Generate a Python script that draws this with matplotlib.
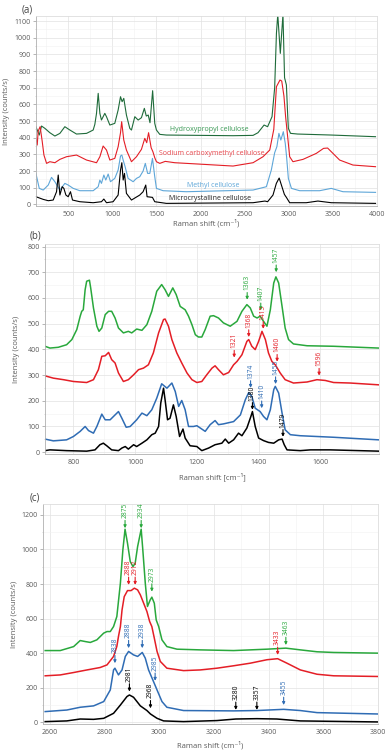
import numpy as np
import matplotlib
matplotlib.use("Agg")
from matplotlib import pyplot as plt
from matplotlib.ticker import MultipleLocator

plt.rcParams["font.family"] = ["Open Sans", "DejaVu Sans"]

# ---------- panel (a): full range ----------
a_mcc_x = [134, 217, 274, 330, 368, 387, 406, 432, 451, 474, 500, 526, 549, 632, 783, 877,
           904, 934, 1009, 1066, 1093, 1108, 1123, 1138, 1160, 1217, 1311, 1349, 1379, 1394,
           1455, 1481, 1613, 2595, 2730, 2760, 2821, 2859, 2891, 2920, 2950, 2975, 3010,
           3198, 3330, 3481, 3983]
a_mcc_y = [46, 30, 22, 26, 76, 176, 56, 106, 96, 56, 46, 76, 26, 16, 10, 16,
           32, 10, 16, 56, 206, 250, 146, 186, 66, 26, 56, 76, 116, 46,
           42, 16, 6, 10, 20, 16, 56, 126, 158, 110, 60, 40, 10,
           10, 20, 10, 6]

a_mc_x = [134, 172, 217, 274, 311, 349, 406, 462, 500, 557, 632, 783, 840, 859, 877, 904, 926,
          953, 979, 1028, 1066, 1093, 1108, 1123, 1145, 1179, 1236, 1274, 1311, 1349, 1374,
          1400, 1425, 1455, 1481, 1500, 1576, 1840, 2595, 2746, 2802, 2840, 2865, 2888, 2910,
          2938, 2960, 2975, 2995, 3030, 3123, 3349, 3481, 3614, 3983]
a_mc_y = [186, 96, 86, 116, 162, 136, 86, 126, 116, 96, 82, 82, 106, 146, 126, 176, 146,
          182, 136, 156, 206, 290, 296, 266, 226, 156, 136, 156, 166, 200, 246,
          186, 186, 276, 166, 96, 82, 76, 86, 106, 206, 310, 346, 426, 386,
          436, 366, 286, 156, 96, 82, 82, 96, 76, 72]

a_cmc_x = [134, 149, 160, 182, 205, 225, 255, 292, 349, 406, 481, 594, 708, 821, 859, 896,
           934, 972, 1028, 1066, 1093, 1106, 1130, 1160, 1217, 1274, 1330, 1368, 1390, 1411,
           1440, 1460, 1481, 1500, 1538, 1600, 1708, 1840, 2368, 2595, 2708, 2784, 2830,
           2860, 2900, 2920, 2945, 2964, 2991, 3010, 3047, 3161, 3312, 3394, 3440, 3576,
           3727, 3983]
a_cmc_y = [400, 356, 440, 466, 380, 296, 246, 256, 250, 270, 286, 296, 266, 250, 286, 350,
           326, 266, 276, 346, 430, 496, 386, 326, 256, 286, 330, 396, 370, 430,
           340, 316, 280, 256, 246, 258, 250, 246, 230, 250, 286, 326, 450,
           706, 746, 740, 650, 526, 386, 286, 256, 270, 306, 336, 338, 266,
           236, 226]

a_hpc_x = [134, 172, 198, 236, 292, 349, 406, 462, 519, 594, 708, 783, 802, 821, 840, 859,
           877, 915, 934, 972, 1028, 1066, 1093, 1111, 1130, 1160, 1198, 1217, 1255, 1293,
           1330, 1363, 1385, 1407, 1427, 1457, 1481, 1500, 1538, 1613, 2368, 2595, 2651,
           2720, 2760, 2810, 2840, 2860, 2875, 2904, 2934, 2952, 2973, 2985, 2995, 3020,
           3100, 3481, 3983]
a_hpc_y = [466, 416, 470, 456, 430, 410, 426, 466, 446, 422, 426, 446, 480, 546, 666, 546,
           506, 546, 526, 476, 486, 566, 646, 616, 636, 536, 456, 446, 526, 506,
           520, 576, 530, 536, 490, 682, 486, 446, 420, 416, 412, 414, 430,
           476, 466, 526, 700, 1026, 1140, 906, 1140, 760, 716, 566, 456, 426,
           422, 416, 406]

# ---------- panel (b): fingerprint region ----------
b_hpc_x = [708, 724, 751, 778, 795, 811, 822, 827, 832, 838, 843, 852, 856, 865, 876, 883,
           892, 903, 914, 924, 935, 946, 962, 978, 989, 1005, 1022, 1038, 1054, 1070, 1086,
           1097, 1108, 1122, 1133, 1146, 1162, 1173, 1184, 1195, 1205, 1216, 1227, 1243,
           1254, 1270, 1286, 1308, 1330, 1346, 1362, 1373, 1384, 1395, 1405, 1416, 1427,
           1438, 1449, 1456, 1465, 1476, 1486, 1497, 1513, 1557, 1643, 1789]
b_hpc_y = [412, 405, 408, 418, 438, 477, 529, 548, 554, 632, 665, 669, 639, 561, 490, 470,
           483, 535, 548, 548, 522, 483, 464, 470, 464, 479, 474, 496, 548, 626, 652,
           632, 606, 639, 613, 567, 554, 529, 496, 457, 448, 448, 477, 529,
           531, 522, 503, 490, 509, 548, 574, 561, 529, 522, 529, 509, 490,
           554, 658, 682, 658, 567, 483, 438, 421, 414, 412, 405]

b_cmc_x = [708, 735, 768, 800, 843, 865, 881, 892, 903, 914, 924, 935, 946, 962, 978, 995,
           1011, 1027, 1043, 1059, 1076, 1092, 1097, 1108, 1119, 1135, 1151, 1168, 1184,
           1200, 1216, 1232, 1249, 1259, 1270, 1286, 1303, 1319, 1330, 1346, 1362, 1368,
           1378, 1389, 1400, 1411, 1422, 1432, 1443, 1454, 1470, 1486, 1513, 1557, 1589,
           1616, 1643, 1697, 1789]
b_cmc_y = [297, 288, 282, 275, 271, 282, 321, 373, 375, 388, 360, 347, 308, 275, 282, 301,
           321, 327, 340, 386, 464, 516, 518, 490, 438, 386, 347, 308, 282,
           271, 275, 301, 327, 336, 321, 301, 310, 340, 353, 379, 431, 438,
           412, 399, 431, 470, 438, 386, 353, 340, 308, 282, 269, 273, 282,
           279, 271, 269, 262]

b_mc_x = [708, 735, 778, 800, 822, 838, 849, 865, 876, 892, 903, 919, 935, 946, 957, 971,
          984, 1005, 1022, 1038, 1054, 1070, 1086, 1103, 1119, 1130, 1141, 1151, 1162, 1173,
          1189, 1200, 1211, 1227, 1243, 1259, 1270, 1286, 1319, 1341, 1357, 1368, 1378,
          1389, 1405, 1416, 1427, 1438, 1449, 1454, 1465, 1476, 1486, 1503, 1535, 1643, 1789]
b_mc_y = [51, 44, 48, 61, 81, 100, 84, 74, 100, 148, 126, 126, 145, 158, 132, 97,
          100, 126, 152, 142, 165, 210, 266, 249, 269, 236, 178, 201, 165, 100,
          100, 103, 94, 81, 107, 123, 107, 110, 119, 145, 204, 232, 217,
          171, 158, 139, 126, 165, 243, 256, 230, 152, 87, 68, 64, 58, 48]

b_mcc_x = [708, 724, 778, 843, 870, 886, 897, 908, 924, 946, 957, 968, 978, 995, 1005, 1022,
           1038, 1054, 1065, 1076, 1083, 1092, 1097, 1105, 1113, 1124, 1133, 1144, 1155,
           1162, 1178, 1200, 1216, 1238, 1259, 1281, 1292, 1303, 1319, 1335, 1346, 1362,
           1375, 1380, 1389, 1400, 1416, 1432, 1449, 1465, 1476, 1483, 1492, 1535, 1568,
           1632, 1789]
b_mcc_y = [6, 9, 6, 4, 9, 29, 35, 25, 9, 6, 16, 22, 12, 29, 22, 35,
           48, 68, 74, 100, 191, 249, 204, 126, 132, 184, 139, 61, 90,
           55, 25, 22, 6, 16, 29, 35, 51, 35, 48, 74, 64, 94,
           139, 158, 100, 55, 45, 38, 35, 48, 51, 29, 9, 6, 9,
           9, 4]

# ---------- panel (c): CH / OH stretching region ----------
c_hpc_x = [2583, 2638, 2687, 2711, 2730, 2748, 2772, 2797, 2809, 2821, 2833, 2845, 2858,
           2867, 2875, 2884, 2894, 2904, 2912, 2921, 2934, 2940, 2949, 2957, 2967, 2973,
           2982, 2989, 2998, 3010, 3028, 3065, 3150, 3272, 3394, 3463, 3516, 3577, 3638, 3802]
c_hpc_y = [415, 415, 438, 473, 467, 462, 477, 516, 525, 525, 554, 612, 805,
           997, 1117, 1036, 930, 901, 920, 1017, 1117, 997, 805, 670, 708, 724,
           689, 592, 554, 477, 438, 423, 419, 415, 423, 429, 419, 408, 404, 400]

c_cmc_x = [2583, 2638, 2687, 2736, 2784, 2809, 2833, 2845, 2851, 2858, 2864, 2872, 2884,
           2897, 2909, 2921, 2931, 2943, 2955, 2965, 2973, 2982, 2992, 3004, 3028, 3089,
           3150, 3211, 3272, 3333, 3394, 3433, 3467, 3516, 3577, 3638, 3802]
c_cmc_y = [269, 274, 288, 303, 317, 332, 381, 439, 497, 554, 650, 727, 762,
           762, 776, 766, 737, 689, 641, 583, 554, 487, 410, 352, 313, 299,
           303, 313, 327, 342, 362, 368, 342, 303, 278, 269, 265]

c_mc_x = [2583, 2662, 2711, 2760, 2797, 2821, 2833, 2838, 2851, 2864, 2876, 2888, 2906, 2921,
          2938, 2949, 2961, 2979, 2992, 3010, 3028, 3089, 3272, 3357, 3455, 3516, 3577, 3802]
c_mc_y = [62, 71, 87, 95, 120, 187, 303, 313, 274, 303, 381, 410, 390, 381,
          404, 371, 303, 236, 187, 120, 87, 68, 66, 68, 75, 68, 56, 48]

c_mcc_x = [2583, 2662, 2711, 2760, 2797, 2833, 2858, 2882, 2891, 2906, 2931, 2955, 2968,
           2992, 3016, 3089, 3211, 3280, 3357, 3430, 3516, 3802]
c_mcc_y = [4, 8, 19, 17, 23, 52, 100, 149, 158, 145, 95, 68, 48,
           23, 8, 4, 10, 19, 21, 19, 8, 2]

GREEN_A = "#1f6b3a"
GREEN = "#29a83c"
RED = "#e41e26"
LBLUE = "#5ea6d8"
BLUE = "#2f6cb4"
BLACK = "#000000"
TXT = "#5a5a5a"

fig = plt.figure(figsize=(3.92, 7.52), dpi=100)


def style(ax, xmaj, xmin, ymaj, ymin):
    ax.xaxis.set_major_locator(MultipleLocator(xmaj))
    ax.xaxis.set_minor_locator(MultipleLocator(xmin))
    ax.yaxis.set_major_locator(MultipleLocator(ymaj))
    ax.yaxis.set_minor_locator(MultipleLocator(ymin))
    ax.grid(which="major", color="#e2e2e2", lw=0.5)
    ax.grid(which="minor", color="#f1f1f1", lw=0.4)
    ax.set_axisbelow(True)
    for s in ["top", "right"]:
        ax.spines[s].set_color("#dddddd")
        ax.spines[s].set_linewidth(0.6)
    for s in ["left", "bottom"]:
        ax.spines[s].set_color("#b0b0b0")
        ax.spines[s].set_linewidth(0.6)
    ax.tick_params(which="major", labelsize=5, colors="#999999", labelcolor=TXT,
                   length=2, width=0.5, pad=1.5)
    ax.tick_params(which="minor", length=1, width=0.4, colors="#bbbbbb")
    ax.tick_params(axis="x", which="both", bottom=False)
    ax.set_ylabel("Intensity (counts/s)", fontsize=5.5, color=TXT)
    ax.yaxis.set_label_coords(-0.075, 0.5)


def mark(ax, x, tip, label, color, arrow, gap):
    ax.annotate("", xy=(x, tip), xytext=(x, tip + arrow),
                arrowprops=dict(arrowstyle="-|>", color=color, lw=0.8,
                                mutation_scale=4, shrinkA=0, shrinkB=0))
    ax.text(x, tip + arrow + gap, label, rotation=90, ha="center", va="bottom",
            fontsize=4.8, color=color, clip_on=True)


# (a)
ax = fig.add_axes([0.0918, 0.726, 0.870, 0.2527])
ax.plot(a_hpc_x, a_hpc_y, color=GREEN_A, lw=0.8)
ax.plot(a_cmc_x, a_cmc_y, color=RED, lw=0.8)
ax.plot(a_mc_x, a_mc_y, color=LBLUE, lw=0.8)
ax.plot(a_mcc_x, a_mcc_y, color=BLACK, lw=0.8)
ax.set_xlim(135, 4000)
ax.set_ylim(-10, 1130)
style(ax, 500, 250, 100, 50)
ax.set_xlabel("Raman shift (cm\u207b\u00b9)", fontsize=5.5, color=TXT)
ax.xaxis.set_label_coords(0.5, -0.068)
ax.text(2104, 452, "Hydroxypropyl cellulose", fontsize=5, color="#3a9a55", ha="center", va="center")
ax.text(2123, 306, "Sodium carboxymethyl cellulose", fontsize=5, color="#e8464c", ha="center", va="center")
ax.text(2142, 116, "Methyl cellulose", fontsize=5, color=LBLUE, ha="center", va="center")
ax.text(2111, 36, "Microcrystalline cellulose", fontsize=5, color="#222222", ha="center", va="center")
fig.text(22 / 392, 1 - 10.5 / 752, "(a)", fontsize=7, color="#444444", va="center")

# (b)
ax = fig.add_axes([0.1148, 0.3963, 0.852, 0.2793])
ax.plot(b_hpc_x, b_hpc_y, color=GREEN, lw=1.1)
ax.plot(b_cmc_x, b_cmc_y, color=RED, lw=1.1)
ax.plot(b_mc_x, b_mc_y, color=BLUE, lw=1.1)
ax.plot(b_mcc_x, b_mcc_y, color=BLACK, lw=1.1)
ax.set_xlim(708, 1790)
ax.set_ylim(-7, 810)
style(ax, 200, 100, 100, 50)
ax.set_xlabel("Raman shift [cm\u207b\u00b9]", fontsize=5.5, color=TXT)
ax.xaxis.set_label_coords(0.5, -0.09)
for x, tip, c in [(1363, 593, GREEN), (1407, 552, GREEN), (1457, 700, GREEN),
                  (1321, 368, RED), (1368, 448, RED), (1415, 480, RED), (1460, 352, RED),
                  (1596, 298, RED), (1374, 250, BLUE), (1410, 171, BLUE), (1455, 265, BLUE),
                  (1380, 165, BLACK), (1479, 60, BLACK)]:
    mark(ax, x, tip, str(x), c, 28, 8)
fig.text(30 / 392, 1 - 236.5 / 752, "(b)", fontsize=7, color="#444444", va="center")

# (c)
ax = fig.add_axes([0.1097, 0.0372, 0.8546, 0.2926])
ax.plot(c_hpc_x, c_hpc_y, color=GREEN, lw=1.1)
ax.plot(c_cmc_x, c_cmc_y, color=RED, lw=1.1)
ax.plot(c_mc_x, c_mc_y, color=BLUE, lw=1.1)
ax.plot(c_mcc_x, c_mcc_y, color=BLACK, lw=1.1)
ax.set_xlim(2575, 3800)
ax.set_ylim(-10, 1263)
style(ax, 200, 100, 200, 100)
ax.set_xlabel("Raman shift (cm\u207b\u00b9)", fontsize=5.5, color=TXT)
ax.xaxis.set_label_coords(0.5, -0.077)
for x, tip, c, lab in [(2875, 1123, GREEN, "2875"), (2934, 1123, GREEN, "2934"),
                       (2973, 756, GREEN, "2973"), (3463, 447, GREEN, "3463"),
                       (2888, 795, RED, "2888"), (2912, 795, RED, "2912"),
                       (3433, 390, RED, "3433"), (2838, 342, BLUE, "2838"),
                       (2888, 429, BLUE, "2888"), (2938, 429, BLUE, "2938"),
                       (2985, 240, BLUE, "2985"), (3455, 100, BLUE, "3455"),
                       (2891, 178, BLACK, "2981"), (2968, 81, BLACK, "2968"),
                       (3280, 72, BLACK, "3280"), (3357, 72, BLACK, "3357")]:
    mark(ax, x, tip, lab, c, 45, 12)
fig.text(30 / 392, 1 - 498 / 752, "(c)", fontsize=7, color="#444444", va="center")

fig.savefig("out.png", dpi=100)
